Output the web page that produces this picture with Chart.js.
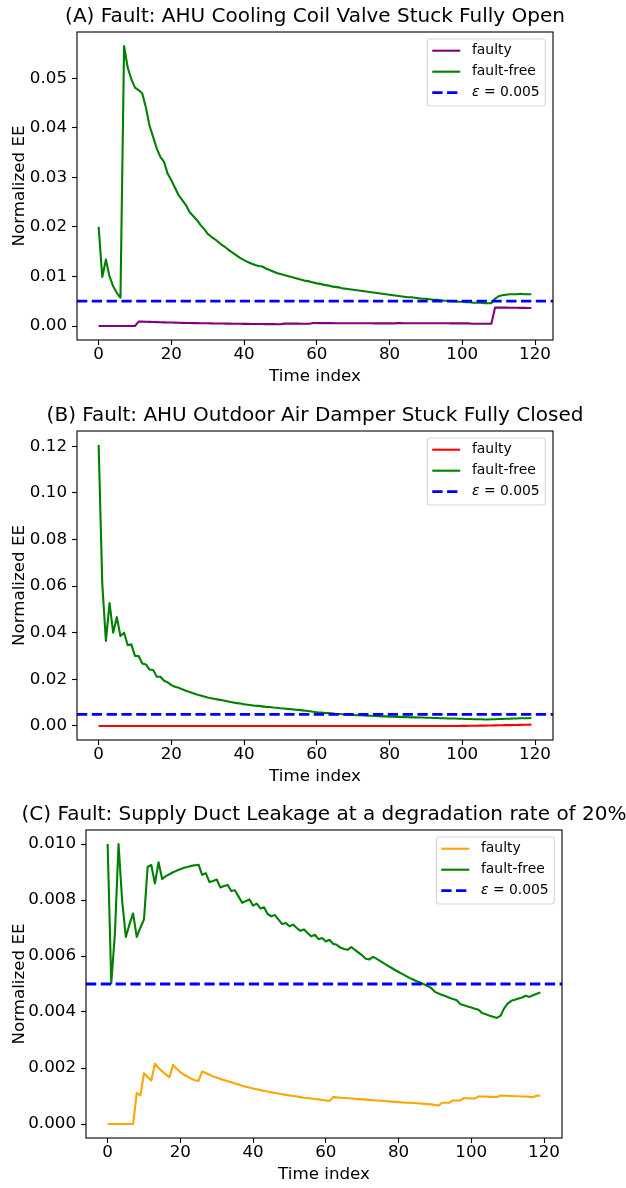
<!DOCTYPE html>
<html>
<head>
<meta charset="utf-8">
<script src="https://cdn.jsdelivr.net/npm/chart.js@4.4.0/dist/chart.umd.min.js"></script>
<style>
  body { margin: 0; background: #fff; width: 626px; height: 1188px; overflow: hidden; position: relative; }
  canvas { position: absolute; left: 0; }
</style>
</head>
<body>
<canvas id="chartA" width="626" height="395" style="top:0px"></canvas>
<canvas id="chartB" width="626" height="396" style="top:399px"></canvas>
<canvas id="chartC" width="626" height="395" style="top:798px"></canvas>
<script>
// shared x axis / labels
const timeIndex = Array.from({ length: 120 }, (_, i) => i);
const xLimits = [-5.95, 124.95];
const xTicks = [0, 20, 40, 60, 80, 100, 120];
const epsilon = 0.005;
const seriesLabels = ['faulty', 'fault-free', 'ε = 0.005'];

// (A) cooling coil valve
const titleA = '(A) Fault: AHU Cooling Coil Valve Stuck Fully Open';
const yTicksA = [0.00, 0.01, 0.02, 0.03, 0.04, 0.05];
const faultyA = [
  0, 0, 0, 0, 0, 0, 0, 0, 0, 0,
  0, 0.00090, 0.00088, 0.00085, 0.00083, 0.00080, 0.00078, 0.00076, 0.00074, 0.00072,
  0.00070, 0.00068, 0.00066, 0.00064, 0.00062, 0.00061, 0.00059, 0.00058, 0.00056, 0.00055,
  0.00054, 0.00052, 0.00051, 0.00050, 0.00049, 0.00048, 0.00047, 0.00046, 0.00045, 0.00044,
  0.00043, 0.00042, 0.00041, 0.00040, 0.00040, 0.00039, 0.00038, 0.00038, 0.00037, 0.00036,
  0.00036, 0.00048, 0.00048, 0.00047, 0.00047, 0.00047, 0.00046, 0.00046, 0.00046, 0.00060,
  0.00060, 0.00059, 0.00059, 0.00058, 0.00058, 0.00057, 0.00057, 0.00056, 0.00056, 0.00056,
  0.00055, 0.00055, 0.00055, 0.00054, 0.00054, 0.00054, 0.00053, 0.00053, 0.00053, 0.00052,
  0.00052, 0.00052, 0.00058, 0.00058, 0.00057, 0.00057, 0.00057, 0.00056, 0.00056, 0.00056,
  0.00055, 0.00055, 0.00055, 0.00054, 0.00054, 0.00054, 0.00054, 0.00053, 0.00053, 0.00053,
  0.00053, 0.00052, 0.00052, 0.00045, 0.00045, 0.00045, 0.00044, 0.00044, 0.00044, 0.00370,
  0.00372, 0.00371, 0.00370, 0.00369, 0.00368, 0.00367, 0.00366, 0.00365, 0.00363, 0.00362
];
const faultFreeA = [
  0.0200, 0.0099, 0.0134, 0.0100, 0.0080, 0.0067, 0.0057, 0.0565, 0.0521, 0.0498,
  0.0481, 0.0476, 0.0469, 0.0441, 0.0404, 0.0381, 0.0358, 0.0341, 0.0331, 0.0307,
  0.0294, 0.0279, 0.0264, 0.0254, 0.0244, 0.0230, 0.0222, 0.0214, 0.0204, 0.0196,
  0.0186, 0.0180, 0.0175, 0.0169, 0.0163, 0.0158, 0.0152, 0.0147, 0.0142, 0.0137,
  0.0133, 0.0129, 0.0126, 0.0123, 0.0121, 0.0120, 0.0116, 0.0113, 0.0110, 0.0107,
  0.0105, 0.0103, 0.0101, 0.0099, 0.0097, 0.0095, 0.0093, 0.0091, 0.0090, 0.0088,
  0.0086, 0.0085, 0.0083, 0.0082, 0.0080, 0.0079, 0.0078, 0.0076, 0.0075, 0.0074,
  0.0073, 0.0072, 0.0071, 0.0070, 0.0069, 0.0068, 0.0067, 0.0066, 0.0065, 0.0064,
  0.0063, 0.0062, 0.0061, 0.0060, 0.0059, 0.0058, 0.0058, 0.0057, 0.0056, 0.0055,
  0.0055, 0.0054, 0.0053, 0.0053, 0.0052, 0.0051, 0.0051, 0.0050, 0.0050, 0.0049,
  0.0049, 0.0048, 0.0048, 0.0047, 0.0047, 0.0047, 0.0046, 0.0046, 0.0046, 0.0055,
  0.0060, 0.0062, 0.0063, 0.0064, 0.0064, 0.0064, 0.0065, 0.0064, 0.0064, 0.0064
];

// (B) outdoor air damper
const titleB = '(B) Fault: AHU Outdoor Air Damper Stuck Fully Closed';
const yTicksB = [0.00, 0.02, 0.04, 0.06, 0.08, 0.10, 0.12];
const faultyB = [
  0, 0, 0, 0, 0, 0, 0, 0, 0, 0,
  0, 0, 0, 0, 0, 0, 0, 0, 0, 0,
  0, 0, 0, 0, 0, 0, 0, 0, 0, 0,
  0, 0, 0, 0, 0, 0, 0, 0, 0, 0,
  0, 0, 0, 0, 0, 0, 0, 0, 0, 0,
  0, 0, 0, 0, 0, 0, 0, 0, 0, 0,
  0, 0, 0, 0, 0, 0, 0, 0, 0, 0,
  0, 0, 0, 0, 0, 0, 0, 0, 0, 0,
  0, 0, 0, 0, 0, 0, 0, 0, 0, 0,
  0, 0, 0, 0, 0, 0, 0, 0, 0, 0,
  0.00002, 0.00004, 0.00006, 0.00008, 0.00010, 0.00013, 0.00016, 0.00019, 0.00022, 0.00025,
  0.00028, 0.00031, 0.00034, 0.00037, 0.00040, 0.00043, 0.00046, 0.00049, 0.00052, 0.00055
];
const faultFreeB = [
  0.1205, 0.0610, 0.0365, 0.0527, 0.0400, 0.0467, 0.0386, 0.0400, 0.0346, 0.0350,
  0.0300, 0.0300, 0.0268, 0.0264, 0.0242, 0.0240, 0.0211, 0.0211, 0.0194, 0.0187,
  0.0175, 0.0168, 0.0164, 0.0157, 0.0151, 0.0146, 0.0140, 0.0135, 0.0131, 0.0126,
  0.0122, 0.0119, 0.0116, 0.0113, 0.0110, 0.0107, 0.0104, 0.0101, 0.0098, 0.0096,
  0.0093, 0.0091, 0.0089, 0.0087, 0.0086, 0.0084, 0.0082, 0.0081, 0.0079, 0.0078,
  0.0076, 0.0075, 0.0073, 0.0072, 0.0070, 0.0069, 0.0067, 0.0065, 0.0063, 0.0061,
  0.0059, 0.0058, 0.0056, 0.0055, 0.0054, 0.0052, 0.0051, 0.0050, 0.0049, 0.0048,
  0.0047, 0.0046, 0.0046, 0.0045, 0.0044, 0.0044, 0.0043, 0.0042, 0.0041, 0.0041,
  0.0040, 0.0040, 0.0039, 0.0039, 0.0038, 0.0038, 0.0037, 0.0037, 0.0036, 0.0036,
  0.0035, 0.0035, 0.0034, 0.0034, 0.0033, 0.0033, 0.0032, 0.0032, 0.0032, 0.0031,
  0.0031, 0.0030, 0.0030, 0.0029, 0.0029, 0.0029, 0.0028, 0.0028, 0.0029, 0.0029,
  0.0030, 0.0030, 0.0031, 0.0031, 0.0032, 0.0032, 0.0033, 0.0033, 0.0033, 0.0034
];

// (C) supply duct leakage
const titleC = '(C) Fault: Supply Duct Leakage at a degradation rate of 20%';
const yTicksC = [0.000, 0.002, 0.004, 0.006, 0.008, 0.010];
const faultyC = [
  0, 0, 0, 0, 0, 0, 0, 0, 0.00111, 0.00102,
  0.00181, 0.00168, 0.00155, 0.00215, 0.00200, 0.00188, 0.00177, 0.00167, 0.00211, 0.00197,
  0.00185, 0.00176, 0.00169, 0.00162, 0.00156, 0.00154, 0.00188, 0.00182, 0.00176, 0.00170,
  0.00166, 0.00161, 0.00157, 0.00153, 0.00149, 0.00145, 0.00141, 0.00137, 0.00133, 0.00130,
  0.00127, 0.00124, 0.00121, 0.00118, 0.00116, 0.00113, 0.00111, 0.00109, 0.00106, 0.00104,
  0.00102, 0.00100, 0.00098, 0.00096, 0.00094, 0.00093, 0.00091, 0.00089, 0.00088, 0.00086,
  0.00084, 0.00082, 0.00096, 0.00095, 0.00094, 0.00093, 0.00092, 0.00091, 0.00090, 0.00089,
  0.00088, 0.00087, 0.00086, 0.00085, 0.00084, 0.00083, 0.00082, 0.00081, 0.00080, 0.00079,
  0.00078, 0.00077, 0.00076, 0.00076, 0.00075, 0.00074, 0.00073, 0.00072, 0.00071, 0.00070,
  0.00068, 0.00066, 0.00076, 0.00076, 0.00076, 0.00084, 0.00084, 0.00084, 0.00092, 0.00092,
  0.00091, 0.00091, 0.00099, 0.00098, 0.00098, 0.00097, 0.00097, 0.00096, 0.00102, 0.00101,
  0.00101, 0.00100, 0.00099, 0.00099, 0.00098, 0.00098, 0.00097, 0.00096, 0.00102, 0.00101
];
const faultFreeC = [
  0.01000, 0.00503, 0.00680, 0.01000, 0.00796, 0.00668, 0.00713, 0.00752, 0.00668, 0.00701,
  0.00731, 0.00918, 0.00925, 0.00859, 0.00935, 0.00875, 0.00885, 0.00892, 0.00899, 0.00905,
  0.00910, 0.00915, 0.00918, 0.00922, 0.00924, 0.00926, 0.00890, 0.00896, 0.00864, 0.00868,
  0.00873, 0.00845, 0.00850, 0.00854, 0.00832, 0.00835, 0.00812, 0.00790, 0.00796, 0.00802,
  0.00780, 0.00787, 0.00770, 0.00774, 0.00750, 0.00742, 0.00746, 0.00730, 0.00714, 0.00718,
  0.00706, 0.00712, 0.00700, 0.00690, 0.00695, 0.00682, 0.00670, 0.00676, 0.00660, 0.00664,
  0.00652, 0.00658, 0.00644, 0.00640, 0.00630, 0.00625, 0.00622, 0.00632, 0.00622, 0.00612,
  0.00602, 0.00590, 0.00588, 0.00597, 0.00590, 0.00582, 0.00574, 0.00566, 0.00558, 0.00550,
  0.00543, 0.00536, 0.00529, 0.00522, 0.00516, 0.00510, 0.00505, 0.00499, 0.00493, 0.00485,
  0.00472, 0.00466, 0.00461, 0.00456, 0.00451, 0.00446, 0.00442, 0.00428, 0.00424, 0.00420,
  0.00416, 0.00412, 0.00408, 0.00396, 0.00392, 0.00387, 0.00383, 0.00379, 0.00386, 0.00412,
  0.00430, 0.00440, 0.00444, 0.00448, 0.00452, 0.00458, 0.00454, 0.00460, 0.00465, 0.00470
];

const FONT = 'DejaVu Sans';
Chart.defaults.font.family = FONT;
Chart.defaults.font.size = 16.7;
Chart.defaults.color = '#000';

// axes box + title above it (matplotlib style)
const frameTitle = {
  id: 'frameTitle',
  afterDatasetsDraw(chart) {
    const { ctx, chartArea: a } = chart;
    ctx.save();
    ctx.strokeStyle = '#000';
    ctx.lineWidth = 1.1;
    ctx.strokeRect(a.left, a.top, a.right - a.left, a.bottom - a.top);
    ctx.restore();
  },
  afterDraw(chart, args, opts) {
    const { ctx, chartArea: a } = chart;
    ctx.save();
    ctx.font = `20px ${FONT}`;
    ctx.fillStyle = '#000';
    ctx.textAlign = 'center';
    ctx.textBaseline = 'middle';
    ctx.fillText(opts.text, (a.left + a.right) / 2, a.top - 15);
    ctx.restore();
  }
};

// legend box in the upper right corner of the axes
const boxLegend = {
  id: 'boxLegend',
  afterDraw(chart) {
    const { ctx, chartArea: a } = chart;
    const sets = chart.data.datasets;
    const fs = 13.9;
    ctx.save();
    const widthOf = (lbl) => {
      if (lbl.startsWith('ε')) {
        ctx.font = `italic ${fs}px ${FONT}`;
        const w1 = ctx.measureText('ε').width;
        ctx.font = `${fs}px ${FONT}`;
        return w1 + ctx.measureText(lbl.slice(1)).width;
      }
      ctx.font = `${fs}px ${FONT}`;
      return ctx.measureText(lbl).width;
    };
    const textW = Math.max(...sets.map(d => widthOf(d.label)));
    const w = 44.7 + textW + 5.6;
    const h = 67;
    const right = a.right - 7.7;
    const left = right - w;
    const top = a.top + 7;
    const r = 3;
    ctx.beginPath();
    ctx.moveTo(left + r, top);
    ctx.lineTo(right - r, top);
    ctx.arcTo(right, top, right, top + r, r);
    ctx.lineTo(right, top + h - r);
    ctx.arcTo(right, top + h, right - r, top + h, r);
    ctx.lineTo(left + r, top + h);
    ctx.arcTo(left, top + h, left, top + h - r, r);
    ctx.lineTo(left, top + r);
    ctx.arcTo(left, top, left + r, top, r);
    ctx.closePath();
    ctx.fillStyle = 'rgba(255,255,255,0.8)';
    ctx.fill();
    ctx.strokeStyle = 'rgba(204,204,204,0.8)';
    ctx.lineWidth = 1.1;
    ctx.stroke();

    sets.forEach((d, i) => {
      const y = top + 11.7 + i * 21;
      ctx.beginPath();
      ctx.setLineDash(d.borderDash || []);
      ctx.strokeStyle = d.borderColor;
      ctx.lineWidth = d.borderWidth;
      ctx.moveTo(left + 5, y);
      ctx.lineTo(left + 33, y);
      ctx.stroke();
      ctx.setLineDash([]);
      ctx.fillStyle = '#000';
      ctx.textBaseline = 'middle';
      ctx.textAlign = 'left';
      let x = left + 44.7;
      if (d.label.startsWith('ε')) {
        ctx.font = `italic ${fs}px ${FONT}`;
        ctx.fillText('ε', x, y);
        x += ctx.measureText('ε').width;
        ctx.font = `${fs}px ${FONT}`;
        ctx.fillText(d.label.slice(1), x, y);
      } else {
        ctx.font = `${fs}px ${FONT}`;
        ctx.fillText(d.label, x, y);
      }
    });
    ctx.restore();
  }
};

function toPoints(values) {
  return timeIndex.map((t, i) => ({ x: t, y: values[i] }));
}

function makePanel(id, title, faulty, faultFree, faultyColor, yTicks, decimals, axisLeft, padRight) {
  const all = faulty.concat(faultFree, [epsilon]);
  const lo = Math.min(...all), hi = Math.max(...all);
  const margin = (hi - lo) * 0.05;
  new Chart(document.getElementById(id), {
    type: 'line',
    data: {
      datasets: [
        { label: seriesLabels[0], data: toPoints(faulty), borderColor: faultyColor, borderWidth: 2.1, pointRadius: 0, order: 3 },
        { label: seriesLabels[1], data: toPoints(faultFree), borderColor: '#008000', borderWidth: 2.1, pointRadius: 0, order: 2 },
        { label: seriesLabels[2], data: xLimits.map(x => ({ x, y: epsilon })), borderColor: '#0000ff', borderWidth: 2.8,
          borderDash: [10.3, 4.5], borderCapStyle: 'butt', pointRadius: 0, order: 1 }
      ]
    },
    options: {
      responsive: false,
      animation: false,
      layout: { padding: { top: 32, right: padRight, bottom: 0, left: 0 } },
      elements: { line: { tension: 0, borderJoinStyle: 'round' } },
      scales: {
        x: {
          type: 'linear',
          min: xLimits[0],
          max: xLimits[1],
          afterBuildTicks: s => { s.ticks = xTicks.map(v => ({ value: v })); },
          afterFit: s => { s.height = 55; },
          grid: { drawOnChartArea: false, tickLength: 5, tickColor: '#000', tickWidth: 1.1 },
          border: { display: false },
          ticks: { padding: 0, autoSkip: false, maxRotation: 0, callback: v => String(v) },
          title: { display: true, text: 'Time index', padding: { top: 0, bottom: 8 } }
        },
        y: {
          min: lo - margin,
          max: hi + margin,
          afterBuildTicks: s => { s.ticks = yTicks.map(v => ({ value: v })); },
          afterFit: s => { s.width = axisLeft; },
          grid: { drawOnChartArea: false, tickLength: 5, tickColor: '#000', tickWidth: 1.1 },
          border: { display: false },
          ticks: { padding: 5, autoSkip: false, callback: v => v.toFixed(decimals) },
          title: { display: true, text: 'Normalized EE', padding: { top: 10, bottom: 0 } }
        }
      },
      plugins: {
        legend: { display: false },
        tooltip: { enabled: false },
        frameTitle: { text: title }
      }
    },
    plugins: [frameTitle, boxLegend]
  });
}

makePanel('chartA', titleA, faultyA, faultFreeA, '#800080', yTicksA, 2, 77, 73);
makePanel('chartB', titleB, faultyB, faultFreeB, '#ff0000', yTicksB, 2, 77, 73);
makePanel('chartC', titleC, faultyC, faultFreeC, '#ffa500', yTicksC, 3, 86, 64);
</script>
</body>
</html>
